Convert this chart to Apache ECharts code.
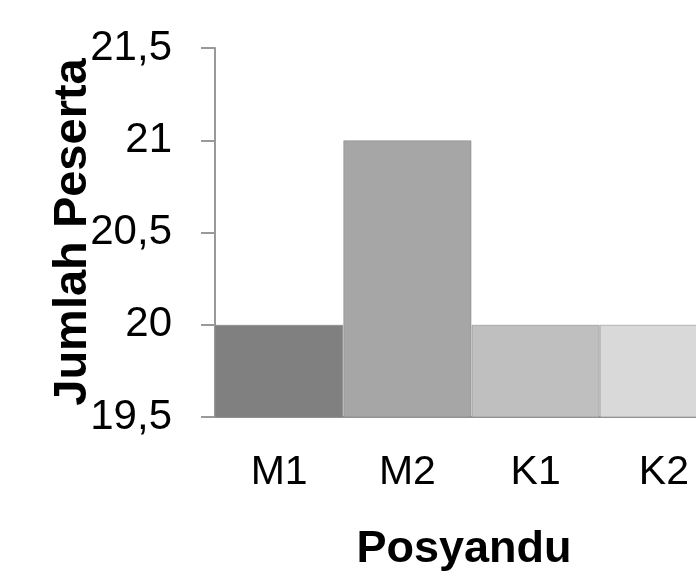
<!DOCTYPE html>
<html><head><meta charset="utf-8">
<script src="https://cdn.jsdelivr.net/npm/echarts@6/dist/echarts.min.js"></script>
<style>html,body{margin:0;padding:0;background:#fff}#c{width:696px;height:574px}</style>
</head><body><div id="c"></div>
<script>
const categories = ['M1', 'M2', 'K1', 'K2'];
const values = [20, 21, 20, 20];
const barColors = ['#808080', '#a6a6a6', '#bfbfbf', '#d9d9d9'];
const yTitle = 'Jumlah Peserta';
const xTitle = 'Posyandu';

const chart = echarts.init(document.getElementById('c'));
const font = '"Liberation Sans", Arial, sans-serif';
chart.setOption({
  animation: false,
  grid: { left: 215, top: 48, bottom: 157, width: 513, outerBoundsMode: 'none', containLabel: false },
  xAxis: {
    type: 'category', data: categories,
    axisLine: { lineStyle: { color: '#999999', width: 2 } },
    axisTick: { show: false },
    axisLabel: { color: '#000', fontSize: 41, fontFamily: font, margin: 35 }
  },
  yAxis: {
    type: 'value', min: 19.5, max: 21.5, interval: 0.5,
    axisLine: { show: true, lineStyle: { color: '#999999', width: 2 } },
    axisTick: { show: true, length: 14, lineStyle: { color: '#999999', width: 2 } },
    splitLine: { show: false },
    axisLabel: { color: '#000', fontSize: 42, fontFamily: font, margin: 43,
      formatter: v => String(v).replace('.', ',') }
  },
  graphic: [
    { type: 'text', x: 464, y: 550, style: { text: xTitle, fontSize: 45, fontWeight: 'bold', fontFamily: font, fill: '#000', align: 'center', verticalAlign: 'middle' } },
    { type: 'text', x: 73, y: 232, rotation: Math.PI / 2, style: { text: yTitle, fontSize: 47, fontWeight: 'bold', fontFamily: font, fill: '#000', align: 'center', verticalAlign: 'middle' } }
  ],
  series: [{
    type: 'bar', barCategoryGap: 0,
    data: values.map((v, i) => ({ value: v, itemStyle: { color: barColors[i] } })),
    itemStyle: { borderColor: 'rgba(128,128,128,0.5)', borderWidth: 1 }
  }]
});
</script></body></html>
